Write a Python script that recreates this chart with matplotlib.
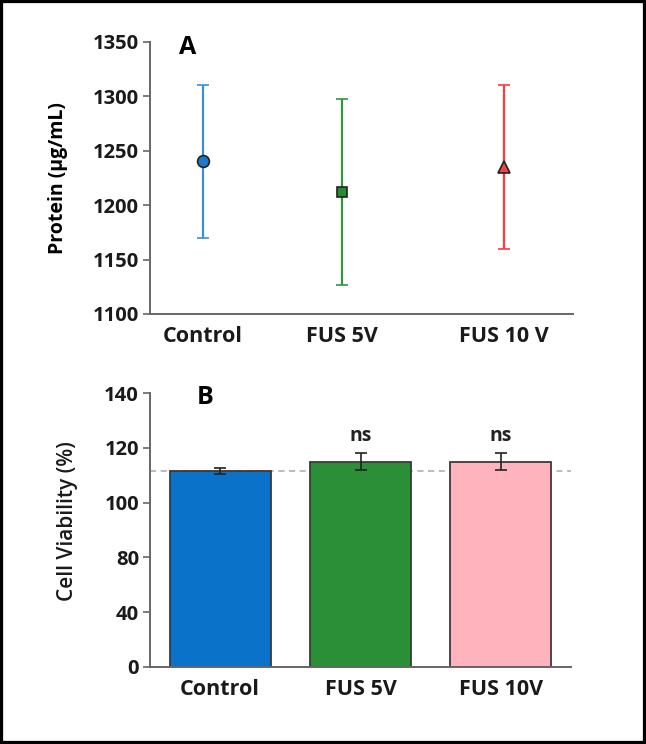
import numpy as np
import matplotlib
matplotlib.use("Agg")
import matplotlib.pyplot as plt
from matplotlib.patches import Rectangle

plt.rcParams['font.family'] = ['Open Sans', 'DejaVu Sans']

groups = ["Control", "FUS 5V", "FUS 10 V"]
groups_b = ["Control", "FUS 5V", "FUS 10V"]

# panel A: protein
protein_mean = [1240, 1212, 1235]
protein_err = [70, 85, 75]

# panel B: viability
viab_mean = [111.7, 115.0, 115.0]
viab_err = [1.1, 3.1, 3.1]
viab_sig = ["", "ns", "ns"]
ref_line = 111.7
b_ticks = [0, 40, 80, 100, 120, 140]

line_cols = ["#3a8fdc", "#2e9a3a", "#ff3b3b"]
face_cols = ["#1f78c8", "#2a8a30", "#e8454d"]
markers = ["o", "s", "^"]
msizes = [8.5, 7, 9]
bar_cols = ["#0a72c8", "#2a8f36", "#ffb3bd"]
spine_col = "#666666"

pos_a = [0, 1, 2.165]

fig = plt.figure(figsize=(6.46, 7.44), dpi=100)

# ---- A
ax = fig.add_axes([0.2322, 0.578, 0.6548, 0.366])
for i in range(3):
    ax.errorbar(pos_a[i], protein_mean[i], yerr=protein_err[i], fmt=markers[i],
                color=line_cols[i], ecolor=line_cols[i], elinewidth=1.6,
                capsize=4, capthick=1.6, markersize=msizes[i],
                markerfacecolor=face_cols[i], markeredgecolor="#222222",
                markeredgewidth=1.2, zorder=3)
ax.set_xlim(-0.381, 2.662)
ax.set_ylim(1100, 1350)
ax.set_yticks(np.arange(1100, 1351, 50))
ax.set_xticks(pos_a)
ax.set_xticklabels(groups)
ax.set_ylabel("Protein (µg/mL)", fontsize=14, fontweight="bold")
ax.yaxis.set_label_coords(-0.195, 0.5)
ax.text(0.09, 0.98, "A", transform=ax.transAxes, fontsize=18,
        fontweight="bold", ha="center", va="center")

# ---- B  (tick labels are evenly spaced in the original)
fwd = lambda v: np.interp(v, b_ticks, np.arange(len(b_ticks)))
inv = lambda v: np.interp(v, np.arange(len(b_ticks)), b_ticks)

bx = fig.add_axes([0.2322, 0.1039, 0.6517, 0.3675])
bx.set_yscale("function", functions=(fwd, inv))
xb = np.arange(3)
bx.bar(xb, viab_mean, width=0.72, color=bar_cols, edgecolor="#3a3a3a",
       linewidth=1.3, zorder=2)
bx.errorbar(xb, viab_mean, yerr=viab_err, fmt="none", ecolor="#222222",
            elinewidth=1.2, capsize=4, capthick=1.2, zorder=3)
bx.axhline(ref_line, color="#aaaaaa", linestyle=(0, (4, 3)), linewidth=1.1, zorder=1)
for i in range(3):
    if viab_sig[i]:
        bx.annotate(viab_sig[i], (xb[i], viab_mean[i] + viab_err[i]),
                    xytext=(0, 5), textcoords="offset points", ha="center",
                    va="bottom", fontsize=14, fontweight="bold", color="#222222")
bx.set_xlim(-0.5, 2.5)
bx.set_ylim(0, 140)
bx.set_yticks(b_ticks)
bx.set_yticklabels([str(t) for t in b_ticks])
bx.set_xticks(xb)
bx.set_xticklabels(groups_b)
bx.set_ylabel("Cell Viability (%)", fontsize=15, fontweight="semibold", color="#1a1a1a")
bx.yaxis.set_label_coords(-0.17, 0.533)
bx.text(0.13, 0.986, "B", transform=bx.transAxes, fontsize=18,
        fontweight="bold", ha="center", va="center")

for a in (ax, bx):
    for s in ("top", "right"):
        a.spines[s].set_visible(False)
    for s in ("left", "bottom"):
        a.spines[s].set_color(spine_col)
        a.spines[s].set_linewidth(1.4)
    a.tick_params(axis="y", direction="out", length=5, width=1.2, color=spine_col,
                  labelsize=14.5, pad=3)
    a.tick_params(axis="x", length=0, labelsize=15.5, pad=9)
    for lab in a.get_yticklabels() + a.get_xticklabels():
        lab.set_fontweight("bold")
        lab.set_color("#1a1a1a")

fig.patches.append(Rectangle((0, 0), 1, 1, transform=fig.transFigure, fill=False,
                             edgecolor="black", linewidth=4.5, zorder=10))

fig.savefig("out.png", dpi=100)
